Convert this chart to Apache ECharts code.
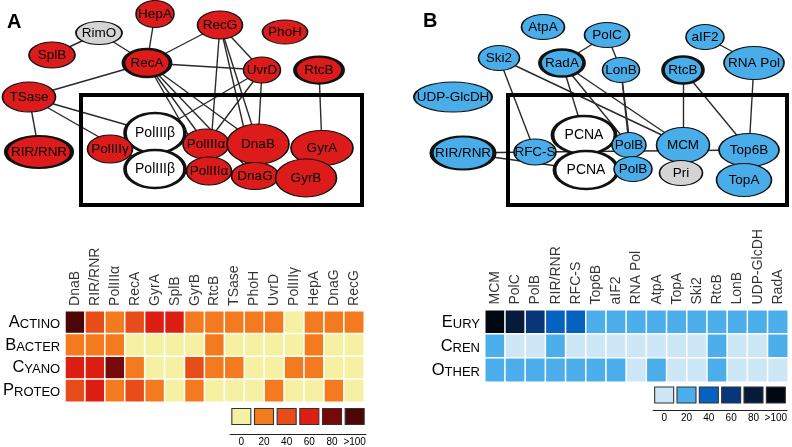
<!DOCTYPE html>
<html>
<head>
<meta charset="utf-8">
<script src="https://cdn.jsdelivr.net/npm/echarts@6/dist/echarts.min.js"></script>
<style>
html, body { margin: 0; padding: 0; background: #fff; }
#chartBox { width: 792px; height: 447px; }
</style>
</head>
<body>
<div id="chartBox"></div>
<script>
// heatmap A (bacteria), levels 0..5 = 0,20,40,60,80,>100
let colsA = ['DnaB', 'RIR/RNR', 'PolIIIα', 'RecA', 'GyrA', 'SplB', 'GyrB', 'RtcB', 'TSase', 'PhoH', 'UvrD', 'PolIIIγ', 'HepA', 'DnaG', 'RecG']
let rowsA = ['Actino', 'Bacter', 'Cyano', 'Proteo']
let levelsA = [
  [5, 2, 1, 2, 3, 3, 1, 1, 1, 1, 1, 0, 1, 1, 1],
  [1, 1, 1, 0, 0, 0, 0, 1, 0, 0, 0, 0, 1, 0, 0],
  [3, 3, 4, 1, 0, 0, 2, 1, 1, 0, 0, 1, 1, 0, 0],
  [2, 3, 1, 2, 1, 0, 1, 0, 0, 0, 1, 0, 0, 1, 0]
]
// heatmap B (archaea)
let colsB = ['MCM', 'PolC', 'PolB', 'RIR/RNR', 'RFC-S', 'Top6B', 'aIF2', 'RNA Pol', 'AtpA', 'TopA', 'Ski2', 'RtcB', 'LonB', 'UDP-GlcDH', 'RadA']
let rowsB = ['Eury', 'Cren', 'Other']
let levelsB = [
  [5, 4, 3, 2, 2, 1, 1, 1, 1, 1, 1, 1, 1, 1, 1],
  [1, 0, 0, 1, 0, 0, 0, 0, 0, 0, 0, 1, 0, 0, 1],
  [1, 1, 1, 1, 1, 1, 1, 0, 1, 0, 0, 1, 0, 0, 0]
]
let legendLabels = ['0', '20', '40', '60', '80', '>100']
let paletteA = ['#f6f1a2', '#f47a1f', '#e74c19', '#dc1f12', '#760909', '#4c0606']
let paletteB = ['#cde7f7', '#4caeea', '#0662c0', '#07367a', '#061b3a', '#020811']

// networks: node names, kind (n normal, b bold, w white, g grey), edges by index
let netNamesA = ['HepA', 'RimO', 'RecG', 'PhoH', 'SplB', 'RecA', 'UvrD', 'RtcB', 'TSase', 'RIR/RNR', 'PolIIIβ', 'PolIIIβ', 'PolIIIγ', 'PolIIIα', 'PolIIIα', 'DnaB', 'DnaG', 'GyrA', 'GyrB']
let netKindA = ['n', 'g', 'n', 'n', 'n', 'b', 'n', 'b', 'n', 'b', 'w', 'w', 'n', 'n', 'n', 'n', 'n', 'n', 'n']
let netEdgesA = [[1, 4], [1, 5], [0, 5], [2, 5], [5, 6], [5, 8], [5, 13], [5, 14], [5, 15], [5, 16],
  [2, 6], [2, 15], [2, 16], [2, 14], [6, 15], [6, 13], [6, 10], [7, 17], [8, 9], [8, 10], [8, 11]]
let netNamesB = ['AtpA', 'PolC', 'aIF2', 'Ski2', 'RadA', 'LonB', 'RtcB', 'RNA Pol', 'UDP-GlcDH', 'RIR/RNR', 'RFC-S', 'PCNA', 'PCNA', 'PolB', 'MCM', 'Top6B', 'PolB', 'Pri', 'TopA']
let netKindB = ['n', 'n', 'n', 'n', 'b', 'n', 'b', 'n', 'n', 'b', 'n', 'w', 'w', 'n', 'n', 'n', 'n', 'g', 'n']
let netEdgesB = [[1, 4], [1, 5], [2, 7], [7, 15], [3, 10], [3, 14], [4, 11], [4, 13], [4, 14], [5, 13],
  [5, 16], [6, 14], [6, 15], [9, 10], [9, 12], [10, 15]]

// layout of the network nodes: [x, y, width, height] in page pixels
let layoutA = [[155, 14, 38, 27], [99, 33, 46, 23], [220, 25, 45, 28], [285, 32, 45, 24], [52, 55, 46, 26],
  [147, 63, 47, 28], [262, 70, 37, 26], [319, 70, 48, 27], [29, 97, 53, 30], [39, 152, 66, 32],
  [155, 133, 60, 40], [155, 169, 60, 38], [110, 149, 45, 28], [206, 144, 46, 30], [209, 171, 45, 28],
  [258, 144, 62, 40], [255, 176, 47, 27], [322, 148, 62, 35], [306, 178, 61, 38]]
let layoutB = [[543, 27, 43, 25], [607, 35, 45, 25], [705, 37, 38, 25], [499, 58, 41, 25], [562, 63, 44, 27],
  [621, 70, 37, 25], [683, 70, 40, 27], [754, 63, 60, 33], [453, 97, 78, 30], [463, 153, 63, 33],
  [535, 152, 42, 26], [584, 135, 63, 38], [586, 170, 63, 38], [629, 145, 34, 25], [683, 145, 53, 35],
  [749, 150, 60, 33], [633, 169, 38, 25], [681, 173, 43, 25], [744, 180, 55, 33]]

let ellipse = 'path://M0,50A50,50,0,1,1,100,50A50,50,0,1,1,0,50Z'
let font = 'Liberation Sans, Arial, sans-serif'

function buildNodes (names, kinds, layout, fill) {
  return names.map((n, i) => {
    let k = kinds[i]
    let color = k === 'w' ? '#fff' : (k === 'g' ? '#d4d4d4' : fill)
    return {
      name: n + '#' + i,
      text: n,
      value: [layout[i][0], layout[i][1]],
      symbolSize: [layout[i][2], layout[i][3]],
      itemStyle: {
        color: color,
        borderColor: '#111',
        borderWidth: (k === 'b' || k === 'w') ? 3 : 1.3
      },
      label: { fontSize: k === 'w' ? 14 : 13.5 }
    }
  })
}

function buildLinks (edges) {
  return edges.map(e => ({ source: e[0], target: e[1] }))
}

function buildCells (levels) {
  let out = []
  levels.forEach((row, r) => {
    row.forEach((v, c) => {
      out.push([c, r, v])
    })
  })
  return out
}

function graphSeries (names, kinds, layout, edges, fill) {
  return {
    type: 'graph',
    coordinateSystem: 'cartesian2d',
    xAxisIndex: 0,
    yAxisIndex: 0,
    symbol: ellipse,
    silent: true,
    data: buildNodes(names, kinds, layout, fill),
    links: buildLinks(edges),
    lineStyle: { color: '#2a2a2a', width: 1.4, opacity: 1 },
    label: {
      show: true,
      position: 'inside',
      color: '#000',
      fontFamily: font,
      formatter: p => p.data.text
    }
  }
}

// vertical column names, placed above the first row of a heatmap
function columnLabels (cols, axisIndex, dist) {
  return {
    type: 'scatter',
    xAxisIndex: axisIndex,
    yAxisIndex: axisIndex,
    silent: true,
    symbolSize: 1,
    itemStyle: { color: 'rgba(0,0,0,0)' },
    data: cols.map((c, i) => [i, 0]),
    label: {
      show: true,
      position: 'top',
      distance: dist,
      rotate: 90,
      align: 'left',
      verticalAlign: 'middle',
      fontSize: 14,
      color: '#000',
      fontFamily: font,
      formatter: p => cols[p.dataIndex]
    }
  }
}

function rowLabel (v) {
  return '{a|' + v[0].toUpperCase() + '}{b|' + v.slice(1).toUpperCase() + '}'
}

let catX = {
  type: 'category',
  position: 'top',
  axisLine: { show: false },
  axisTick: { show: false },
  axisLabel: { show: false }
}
let catY = {
  type: 'category',
  inverse: true,
  axisLine: { show: false },
  axisTick: { show: false },
  axisLabel: {
    formatter: rowLabel,
    margin: 5,
    rich: {
      a: { fontSize: 16.5, color: '#000', fontFamily: font, verticalAlign: 'bottom' },
      b: { fontSize: 13, color: '#000', fontFamily: font, verticalAlign: 'bottom' }
    }
  }
}
let legX = {
  type: 'category',
  data: legendLabels,
  position: 'bottom',
  boundaryGap: true,
  axisLine: { lineStyle: { color: '#222', width: 1 } },
  axisTick: { inside: true, length: 6, interval: 0, lineStyle: { color: '#222' } },
  axisLabel: { fontSize: 10, color: '#000', margin: 3, interval: 0, fontFamily: font }
}

let myChart = echarts.init(document.getElementById('chartBox'))
myChart.setOption({
  animation: false,
  textStyle: { fontFamily: font },
  grid: [
    { left: 0, top: 0, width: 792, height: 447 },
    { left: 63, top: 311, width: 301, height: 91 },
    { left: 230, top: 409, width: 136, height: 16 },
    { left: 485, top: 310, width: 303, height: 72 },
    { left: 653, top: 387, width: 134, height: 16 }
  ],
  xAxis: [
    { type: 'value', gridIndex: 0, min: 0, max: 792, show: false },
    Object.assign({}, catX, { gridIndex: 1, data: colsA }),
    Object.assign({}, legX, { gridIndex: 2, offset: 10 }),
    Object.assign({}, catX, { gridIndex: 3, data: colsB }),
    Object.assign({}, legX, { gridIndex: 4, offset: 7 })
  ],
  yAxis: [
    { type: 'value', gridIndex: 0, min: 0, max: 447, inverse: true, show: false },
    Object.assign({}, catY, { gridIndex: 1, data: rowsA }),
    { type: 'category', gridIndex: 2, data: [''], show: false },
    Object.assign({}, catY, { gridIndex: 3, data: rowsB }),
    { type: 'category', gridIndex: 4, data: [''], show: false }
  ],
  visualMap: [
    {
      type: 'piecewise',
      show: false,
      dimension: 2,
      seriesIndex: [2, 3],
      pieces: paletteA.map((c, i) => ({ value: i, color: c }))
    },
    {
      type: 'piecewise',
      show: false,
      dimension: 2,
      seriesIndex: [4, 5],
      pieces: paletteB.map((c, i) => ({ value: i, color: c }))
    }
  ],
  graphic: [
    { type: 'rect', z: 10, silent: true, shape: { x: 81, y: 95, width: 281, height: 110 }, style: { fill: 'none', stroke: '#000', lineWidth: 4 } },
    { type: 'rect', z: 10, silent: true, shape: { x: 508, y: 95, width: 279, height: 110 }, style: { fill: 'none', stroke: '#000', lineWidth: 4 } },
    { type: 'text', left: 7, top: 12, style: { text: 'A', fontSize: 20, fontWeight: 'bold', fill: '#000', fontFamily: font } },
    { type: 'text', left: 423, top: 11, style: { text: 'B', fontSize: 20, fontWeight: 'bold', fill: '#000', fontFamily: font } }
  ],
  series: [
    graphSeries(netNamesA, netKindA, layoutA, netEdgesA, '#dd1b1b'),
    graphSeries(netNamesB, netKindB, layoutB, netEdgesB, '#48ade9'),
    {
      type: 'heatmap',
      xAxisIndex: 1,
      yAxisIndex: 1,
      silent: true,
      data: buildCells(levelsA),
      itemStyle: { borderColor: '#fff', borderWidth: 1.5 }
    },
    {
      type: 'scatter',
      xAxisIndex: 2,
      yAxisIndex: 2,
      silent: true,
      symbol: 'rect',
      symbolSize: [19, 16],
      data: legendLabels.map((l, i) => [i, 0, i]),
      itemStyle: { borderColor: '#333', borderWidth: 1, opacity: 1 }
    },
    {
      type: 'heatmap',
      xAxisIndex: 3,
      yAxisIndex: 3,
      silent: true,
      data: buildCells(levelsB),
      itemStyle: { borderColor: '#fff', borderWidth: 1.5 }
    },
    {
      type: 'scatter',
      xAxisIndex: 4,
      yAxisIndex: 4,
      silent: true,
      symbol: 'rect',
      symbolSize: [19, 16],
      data: legendLabels.map((l, i) => [i, 0, i]),
      itemStyle: { borderColor: '#333', borderWidth: 1, opacity: 1 }
    },
    columnLabels(colsA, 1, 16),
    columnLabels(colsB, 3, 17)
  ]
})
</script>
</body>
</html>
